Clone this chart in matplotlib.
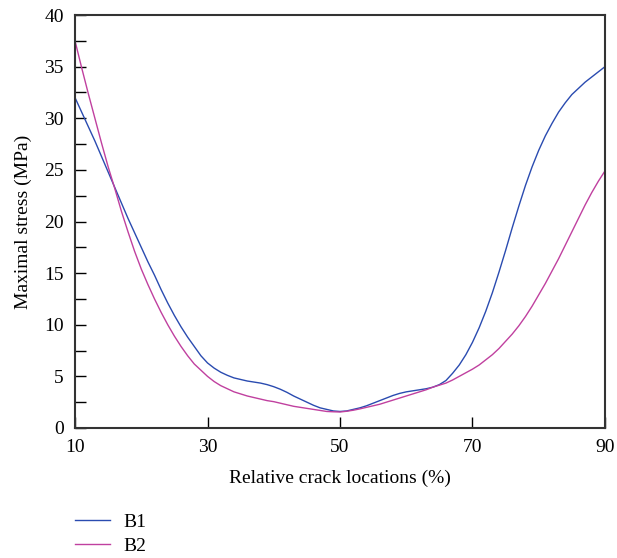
import matplotlib
matplotlib.use("Agg")
import matplotlib.pyplot as plt
from matplotlib.ticker import MultipleLocator
from matplotlib.lines import Line2D

plt.rcParams['font.family'] = ['Liberation Serif', 'DejaVu Serif']

x = list(range(10, 91))
b1 = [32.0, 30.6, 29.2, 27.8, 26.3, 24.8, 23.3, 21.8, 20.3, 18.9,
      17.5, 16.1, 14.8, 13.4, 12.1, 10.9, 9.8, 8.8, 7.9, 7.0,
      6.3, 5.8, 5.4, 5.1, 4.85, 4.7, 4.55, 4.45, 4.35, 4.2,
      4.0, 3.75, 3.45, 3.1, 2.8, 2.5, 2.2, 1.95, 1.8, 1.65,
      1.6, 1.65, 1.8, 1.95, 2.15, 2.4, 2.65, 2.9, 3.15, 3.35,
      3.5, 3.6, 3.7, 3.8, 3.95, 4.2, 4.6, 5.3, 6.1, 7.1,
      8.3, 9.7, 11.3, 13.1, 15.1, 17.2, 19.4, 21.5, 23.5, 25.3,
      26.9, 28.3, 29.5, 30.6, 31.5, 32.3, 32.9, 33.5, 34.0, 34.5,
      35.0]
b2 = [37.5, 34.9, 32.4, 30.0, 27.6, 25.3, 23.2, 21.0, 19.0, 17.1,
      15.4, 13.9, 12.5, 11.2, 10.0, 8.9, 7.9, 7.0, 6.2, 5.6,
      5.0, 4.5, 4.1, 3.8, 3.5, 3.3, 3.1, 2.95, 2.8, 2.65,
      2.55, 2.4, 2.25, 2.1, 2.0, 1.9, 1.8, 1.7, 1.6, 1.57,
      1.55, 1.62, 1.72, 1.85, 2.0, 2.15, 2.3, 2.5, 2.7, 2.9,
      3.1, 3.3, 3.5, 3.7, 3.95, 4.15, 4.35, 4.65, 5.0, 5.35,
      5.7, 6.1, 6.6, 7.1, 7.7, 8.4, 9.1, 9.9, 10.8, 11.8,
      12.9, 14.0, 15.2, 16.4, 17.7, 19.0, 20.3, 21.6, 22.8, 23.9,
      24.9]
labels = ["B1", "B2"]
colors = ["#2a4bb0", "#c0409f"]

fs = 14
fig = plt.figure(figsize=(6.17, 5.58), dpi=100)
ax = fig.add_axes([0.1216, 0.233, 0.8589, 0.740])
ax.plot(x, b1, color=colors[0], lw=1.0)
ax.plot(x, b2, color=colors[1], lw=1.0)
ax.set_xlim(10, 90)
ax.set_ylim(0, 40)
ax.set_xticks([10, 30, 50, 70, 90])
ax.yaxis.set_major_locator(MultipleLocator(5))
ax.yaxis.set_minor_locator(MultipleLocator(2.5))
ax.tick_params(axis='both', which='both', direction='in', top=False, right=False,
               labelsize=fs, width=1.0, color='black')
ax.tick_params(axis='both', which='major', length=8, pad=8)
ax.tick_params(axis='y', which='minor', length=8)
for s in ax.spines.values():
    s.set_linewidth(1.5)
    s.set_color('#333333')
ax.set_xlabel("Relative crack locations (%)", fontsize=fs, labelpad=10)
ax.set_ylabel("Maximal stress (MPa)", fontsize=fs, labelpad=9)

handles = [Line2D([], [], color=c, lw=1.0) for c in colors]
fig.legend(handles, labels, loc='upper left', bbox_to_anchor=(0.105, 0.097),
           frameon=False, fontsize=fs, handlelength=1.8, handletextpad=0.7,
           labelspacing=0.3, borderpad=0)

fig.savefig("out.png", dpi=100)
